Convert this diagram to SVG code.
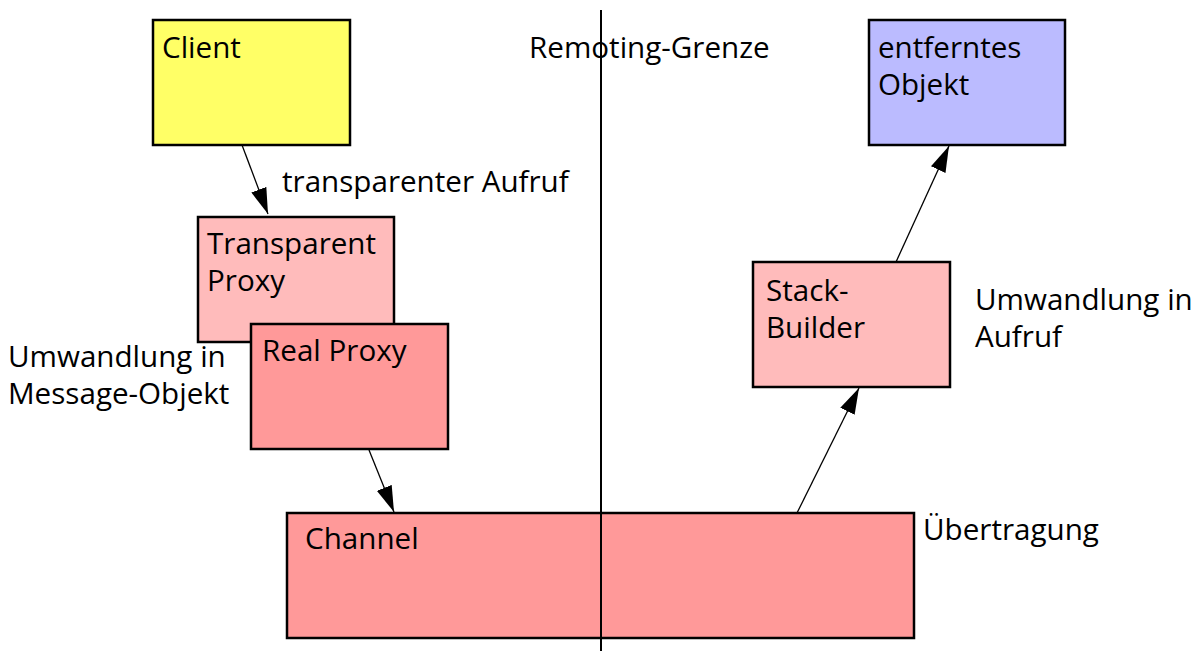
<svg xmlns="http://www.w3.org/2000/svg" width="1199" height="651" viewBox="0 0 1199 651">
  <style>
    text { font-family: "Open Sans", "Liberation Sans", sans-serif; font-size: 29.6px; fill: #000; }
    .box { stroke: #000; stroke-width: 2.5; }
    .edge { stroke: #000; stroke-width: 1.3; fill: none; }
  </style>
  <defs>
    <marker id="arrow" viewBox="0 0 26 16" refX="26" refY="8" markerWidth="26" markerHeight="16" markerUnits="userSpaceOnUse" orient="auto">
      <path d="M0,0 L26,8 L0,16 Z" fill="#000"/>
    </marker>
  </defs>

  <rect width="1199" height="651" fill="#fff"/>

  <g id="channel">
    <rect class="box" x="287" y="513" width="627" height="125" fill="#FF9999"/>
    <text x="305" y="549">Channel</text>
  </g>

  <!-- boundary between client and server side -->
  <g id="remoting-boundary">
    <line x1="601" y1="10" x2="601" y2="651" stroke="#000" stroke-width="2"/>
    <text x="529" y="58">Remoting-Grenze</text>
  </g>

  <g id="client">
    <rect class="box" x="153" y="20" width="197" height="125" fill="#FFFF66"/>
    <text x="162" y="58">Client</text>
  </g>

  <g id="transparent-proxy">
    <rect class="box" x="198" y="217" width="196" height="125" fill="#FFBBBB"/>
    <text x="207" y="254">Transparent</text>
    <text x="207" y="291">Proxy</text>
  </g>

  <g id="real-proxy">
    <rect class="box" x="251" y="324" width="197" height="125" fill="#FF9999"/>
    <text x="262" y="361">Real Proxy</text>
  </g>

  <g id="stack-builder">
    <rect class="box" x="753" y="262" width="197" height="125" fill="#FFBBBB"/>
    <text x="766" y="301">Stack-</text>
    <text x="766" y="338">Builder</text>
  </g>

  <g id="remote-object">
    <rect class="box" x="869" y="20" width="196" height="125" fill="#BBBBFF"/>
    <text x="878" y="58">entferntes</text>
    <text x="878" y="95">Objekt</text>
  </g>

  <g id="connectors">
    <line class="edge" x1="242" y1="145" x2="268" y2="214" marker-end="url(#arrow)"/>
    <line class="edge" x1="369" y1="450" x2="394" y2="512" marker-end="url(#arrow)"/>
    <line class="edge" x1="797" y1="513" x2="859" y2="388" marker-end="url(#arrow)"/>
    <line class="edge" x1="896" y1="262" x2="949" y2="146" marker-end="url(#arrow)"/>
  </g>

  <g id="labels">
    <text x="282" y="192">transparenter Aufruf</text>
    <text x="8" y="367">Umwandlung in</text>
    <text x="8" y="404">Message-Objekt</text>
    <text x="975" y="310">Umwandlung in</text>
    <text x="975" y="347">Aufruf</text>
    <text x="923" y="540">Übertragung</text>
  </g>
</svg>
